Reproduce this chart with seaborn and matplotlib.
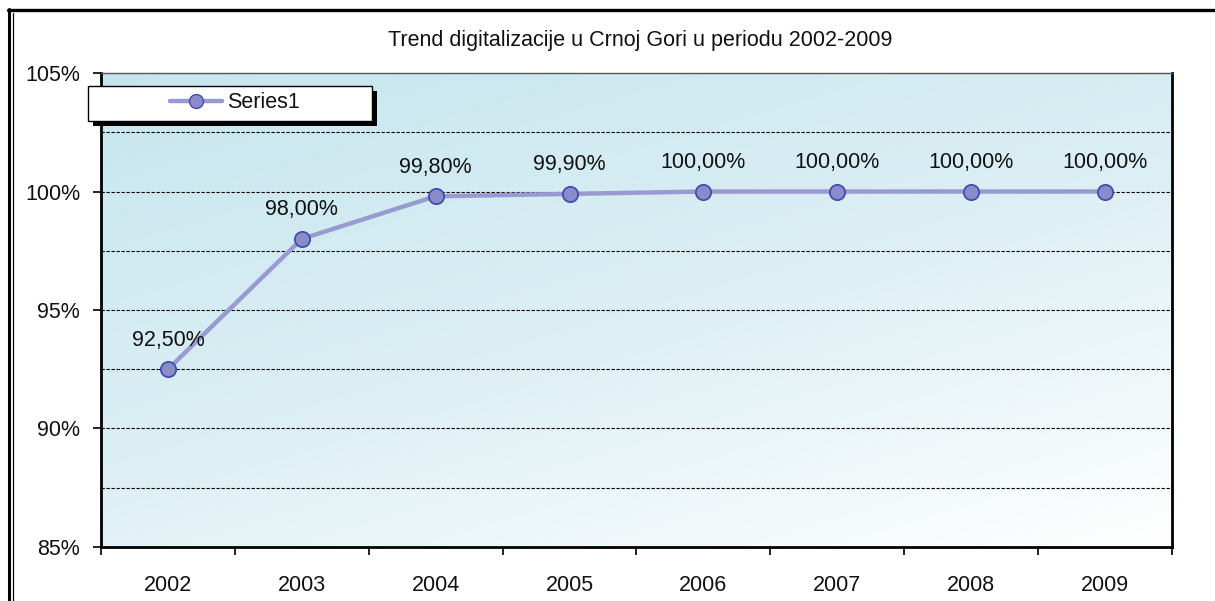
import matplotlib
matplotlib.use("Agg")
import matplotlib.pyplot as plt
import numpy as np
import pandas as pd
import seaborn as sns
from matplotlib.colors import LinearSegmentedColormap
from matplotlib.patches import Rectangle
from matplotlib.lines import Line2D

years = ["2002", "2003", "2004", "2005", "2006", "2007", "2008", "2009"]
values = [92.5, 98.0, 99.8, 99.9, 100.0, 100.0, 100.0, 100.0]
point_labels = ["92,50%", "98,00%", "99,80%", "99,90%", "100,00%", "100,00%", "100,00%", "100,00%"]
y_ticks = [85, 90, 95, 100, 105]
y_tick_labels = ["85%", "90%", "95%", "100%", "105%"]
series_name = "Series1"
title = "Trend digitalizacije u Crnoj Gori u periodu 2002-2009"

sns.set_theme(style="white")
plt.rcParams["font.family"] = ["Liberation Sans", "DejaVu Sans"]

df = pd.DataFrame({"year": years, "value": values, "series": series_name})
df["pos"] = np.arange(len(years))

fs = 15.5
txt_color = "#111111"

fig = plt.figure(figsize=[12.15, 6.01], dpi=100)
fig.patch.set_facecolor("white")
ax = fig.add_axes([0.0831, 0.0899, 0.8815, 0.7886])

# background gradient, blue top-left fading to white bottom-right
n = len(years)
gx, gy = np.meshgrid(np.linspace(0, 1, 300), np.linspace(0, 1, 200))
grad = 0.6 * gx + 0.9 * gy
grad = grad / grad.max()
cmap = LinearSegmentedColormap.from_list("bg", ["#c6e6ef", "#dceff4", "#ffffff"])
ax.imshow(grad, cmap=cmap, extent=[-0.5, n - 0.5, 85, 105], origin="upper",
          aspect="auto", zorder=0)

# grid every 2.5%
for g in np.arange(87.5, 105, 2.5):
    ax.axhline(g, color="black", lw=0.8, ls=(0, (3, 1.5)), zorder=1)

line_color = "#9a9ad2"
sns.lineplot(data=df, x="pos", y="value", ax=ax, color=line_color, lw=3.2,
             marker="o", markersize=11, markerfacecolor="#8b8bc9",
             markeredgecolor="#3f4fb0", markeredgewidth=1.3, zorder=3,
             label=series_name, legend=False)

for x, y, lab in zip(df["pos"], values, point_labels):
    ax.annotate(lab, (x, y), xytext=(0, 21), textcoords="offset points",
                ha="center", va="center", fontsize=fs, color=txt_color)

ax.set_xlim(-0.5, n - 0.5)
ax.set_ylim(85, 105)
ax.set_yticks(y_ticks)
ax.set_yticklabels(y_tick_labels, fontsize=fs, color=txt_color)
ax.set_xticks(np.arange(n))
ax.set_xticklabels(years, fontsize=fs, color=txt_color)
ax.set_xticks(np.arange(n + 1) - 0.5, minor=True)
ax.tick_params(axis="x", which="major", length=0, pad=20)
ax.tick_params(axis="x", which="minor", length=6, width=1.2, color="black",
               direction="out", bottom=True)
ax.tick_params(axis="y", which="major", length=6, width=1.2, color="black",
               direction="out", left=True, pad=9)
ax.set_xlabel("")
ax.set_ylabel("")

for side in ["left", "bottom", "right"]:
    ax.spines[side].set_visible(True)
    ax.spines[side].set_color("black")
    ax.spines[side].set_linewidth(2)
ax.spines["top"].set_color("#555555")
ax.spines["top"].set_linewidth(1)

fig.text(0.527, 0.933, title, ha="center", va="center", fontsize=fs, color=txt_color)

# legend box with shadow
W, H = 1215, 601
fig.patches.append(Rectangle((93 / W, 1 - 126 / H), 284 / W, 35 / H,
                             transform=fig.transFigure, facecolor="black",
                             edgecolor="none", zorder=5))
fig.patches.append(Rectangle((88 / W, 1 - 121 / H), 284 / W, 35 / H,
                             transform=fig.transFigure, facecolor="white",
                             edgecolor="black", lw=1, zorder=6))
handle = Line2D([], [], color=line_color, lw=3.2, marker="o", markersize=10,
                markerfacecolor="#8b8bc9", markeredgecolor="#3f4fb0")
leg = fig.legend([handle], [series_name], loc="center left",
                 bbox_to_anchor=(170 / W, 1 - 103 / H), frameon=False,
                 fontsize=fs, handlelength=2.4, handletextpad=0.25,
                 borderpad=0, borderaxespad=0)
for t in leg.get_texts():
    t.set_color(txt_color)
leg.set_zorder(7)

# outer frame
fig.add_artist(Line2D([9 / W, 9 / W], [0, 1 - 9 / H], transform=fig.transFigure,
                      color="black", lw=2.2))
fig.add_artist(Line2D([13 / W, 13 / W], [0, 1 - 13 / H], transform=fig.transFigure,
                      color="black", lw=0.9))
fig.add_artist(Line2D([8 / W, 1], [1 - 10 / H, 1 - 10 / H], transform=fig.transFigure,
                      color="black", lw=2.4))

fig.savefig("out.png", dpi=100, facecolor="white")
